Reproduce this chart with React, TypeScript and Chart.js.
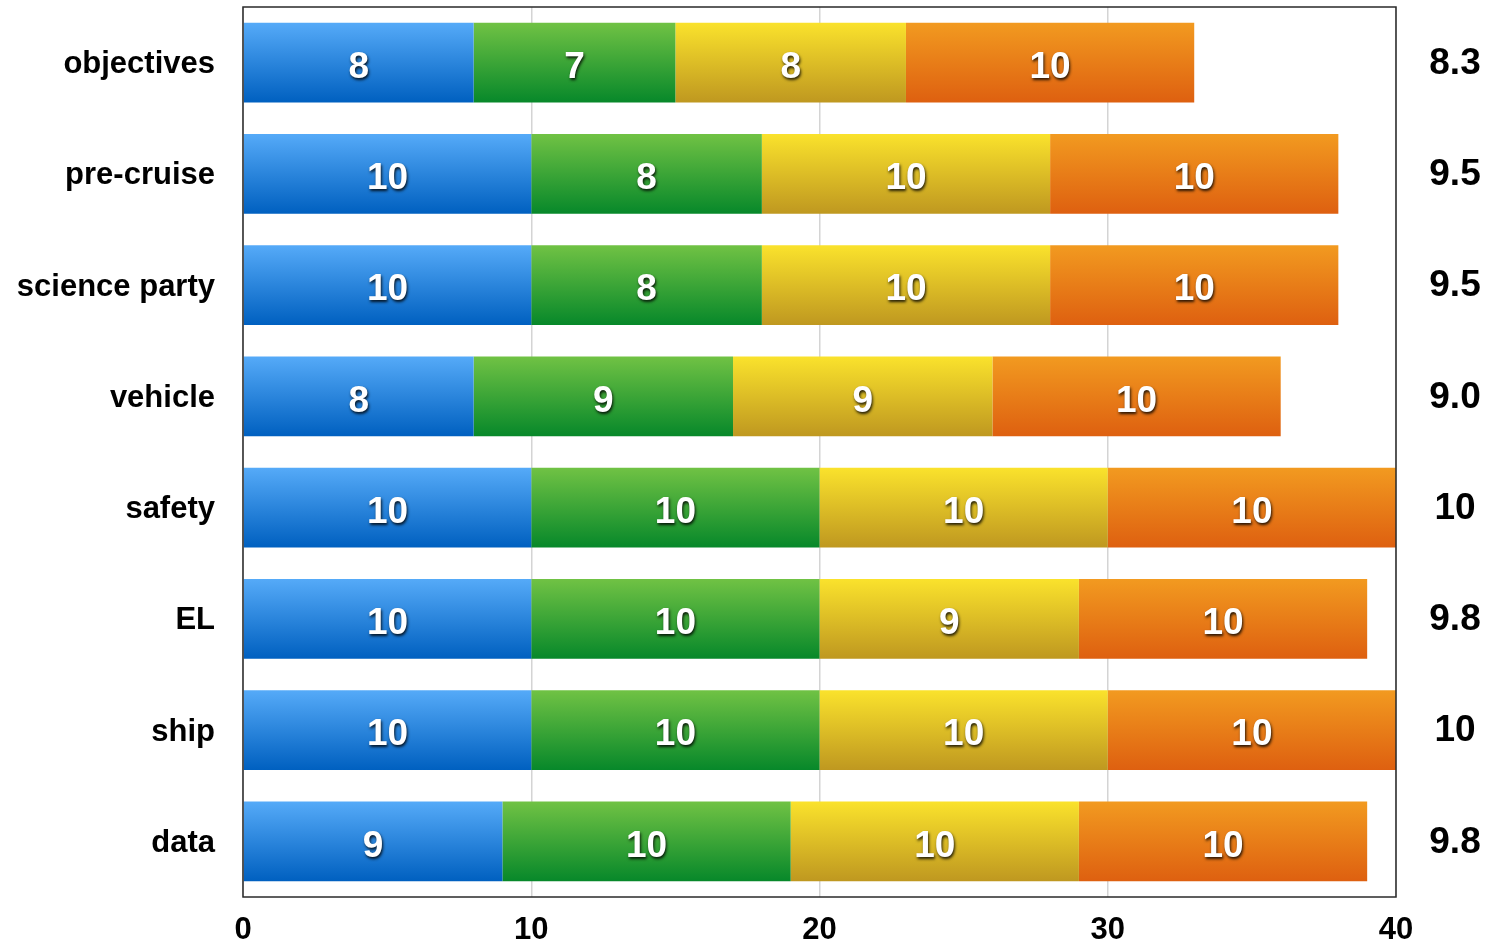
import React, { useEffect, useRef } from "react";
import { Chart, registerables } from "chart.js";

Chart.register(...registerables);

const categories = ["objectives", "pre-cruise", "science party", "vehicle", "safety", "EL", "ship", "data"];
const series1 = [8, 10, 10, 8, 10, 10, 10, 9];
const series2 = [7, 8, 8, 9, 10, 10, 10, 10];
const series3 = [8, 10, 10, 9, 10, 9, 10, 10];
const series4 = [10, 10, 10, 10, 10, 10, 10, 10];
const averages = ["8.3", "9.5", "9.5", "9.0", "10", "9.8", "10", "9.8"];
const xTicks = [0, 10, 20, 30, 40];

const gradients: [string, string][] = [
  ["#55aaf8", "#0060c0"],
  ["#70c244", "#07882a"],
  ["#fae22c", "#bf9820"],
  ["#f29a20", "#de6010"],
];

const BAR_PCT = 0.715;
const FONT = '"Liberation Sans", Arial, Helvetica, sans-serif';

function makeBg(idx: number) {
  return (ctx: any) => {
    const chart = ctx.chart;
    const y = chart.scales?.y;
    if (!y || !chart.chartArea || ctx.dataIndex === undefined) return gradients[idx][1];
    const c = y.getPixelForValue(ctx.dataIndex);
    const band = (chart.chartArea.bottom - chart.chartArea.top) / categories.length;
    const h = band * BAR_PCT;
    const g = chart.ctx.createLinearGradient(0, c - h / 2, 0, c + h / 2);
    g.addColorStop(0, gradients[idx][0]);
    g.addColorStop(1, gradients[idx][1]);
    return g;
  };
}

const labelPlugin = {
  id: "labels",
  afterDatasetsDraw(chart: any) {
    const ctx = chart.ctx;
    ctx.save();
    chart.data.datasets.forEach((ds: any, di: number) => {
      const meta = chart.getDatasetMeta(di);
      meta.data.forEach((el: any, i: number) => {
        const cx = (el.x + el.base) / 2;
        const cy = el.y;
        ctx.font = `bold 37px ${FONT}`;
        ctx.textAlign = "center";
        ctx.textBaseline = "middle";
        ctx.shadowColor = "rgba(0,0,0,0.85)";
        ctx.shadowOffsetX = 1;
        ctx.shadowOffsetY = 2;
        ctx.shadowBlur = 3;
        ctx.fillStyle = "#ffffff";
        ctx.fillText(String(ds.data[i]), cx, cy + 5);
      });
    });
    ctx.shadowColor = "transparent";
    ctx.shadowBlur = 0;
    ctx.shadowOffsetX = 0;
    ctx.shadowOffsetY = 0;
    const y = chart.scales.y;
    ctx.fillStyle = "#000";
    ctx.font = `bold 37px ${FONT}`;
    ctx.textAlign = "center";
    ctx.textBaseline = "middle";
    averages.forEach((a, i) => {
      ctx.fillText(a, 1455, y.getPixelForValue(i) + 1);
    });
    const ca = chart.chartArea;
    ctx.strokeStyle = "#2a2a2a";
    ctx.lineWidth = 1.5;
    ctx.strokeRect(ca.left, ca.top, ca.right - ca.left, ca.bottom - ca.top);
    ctx.restore();
  },
};

export default function App() {
  const ref = useRef<HTMLCanvasElement>(null);
  useEffect(() => {
    document.body.style.margin = "0";
    const chart = new Chart(ref.current!, {
      type: "bar",
      data: {
        labels: categories,
        datasets: [series1, series2, series3, series4].map((d, i) => ({
          label: "s" + (i + 1),
          data: d,
          backgroundColor: makeBg(i),
          borderWidth: 0,
          barPercentage: BAR_PCT,
          categoryPercentage: 1,
        })),
      },
      options: {
        indexAxis: "y",
        animation: false,
        responsive: false,
        maintainAspectRatio: false,
        layout: { padding: { top: 7, right: 93, left: 0, bottom: 0 } },
        plugins: { legend: { display: false }, tooltip: { enabled: false } },
        scales: {
          x: {
            stacked: true,
            min: 0,
            max: 40,
            afterBuildTicks: (s: any) => {
              s.ticks = xTicks.map((v) => ({ value: v }));
            },
            afterFit: (s: any) => {
              s.height = 50;
              s.paddingLeft = 0;
              s.paddingRight = 0;
              s.paddingTop = 0;
              s.paddingBottom = 0;
            },
            grid: { color: "#d4d4d4", lineWidth: 1.5, drawTicks: false },
            border: { display: false },
            ticks: {
              color: "#000",
              padding: 15,
              font: { family: FONT, size: 31, weight: "bold" },
            },
          },
          y: {
            stacked: true,
            afterFit: (s: any) => {
              s.width = 243;
              s.paddingLeft = 0;
              s.paddingRight = 0;
              s.paddingTop = 0;
              s.paddingBottom = 0;
            },
            grid: { display: false, drawTicks: false },
            border: { display: false },
            ticks: {
              color: "#000",
              padding: 28,
              labelOffset: 2,
              font: { family: FONT, size: 31, weight: "bold" },
            },
          },
        },
      },
      plugins: [labelPlugin],
    } as any);
    return () => chart.destroy();
  }, []);
  return <canvas ref={ref} width={1489} height={947} style={{ display: "block" }} />;
}
